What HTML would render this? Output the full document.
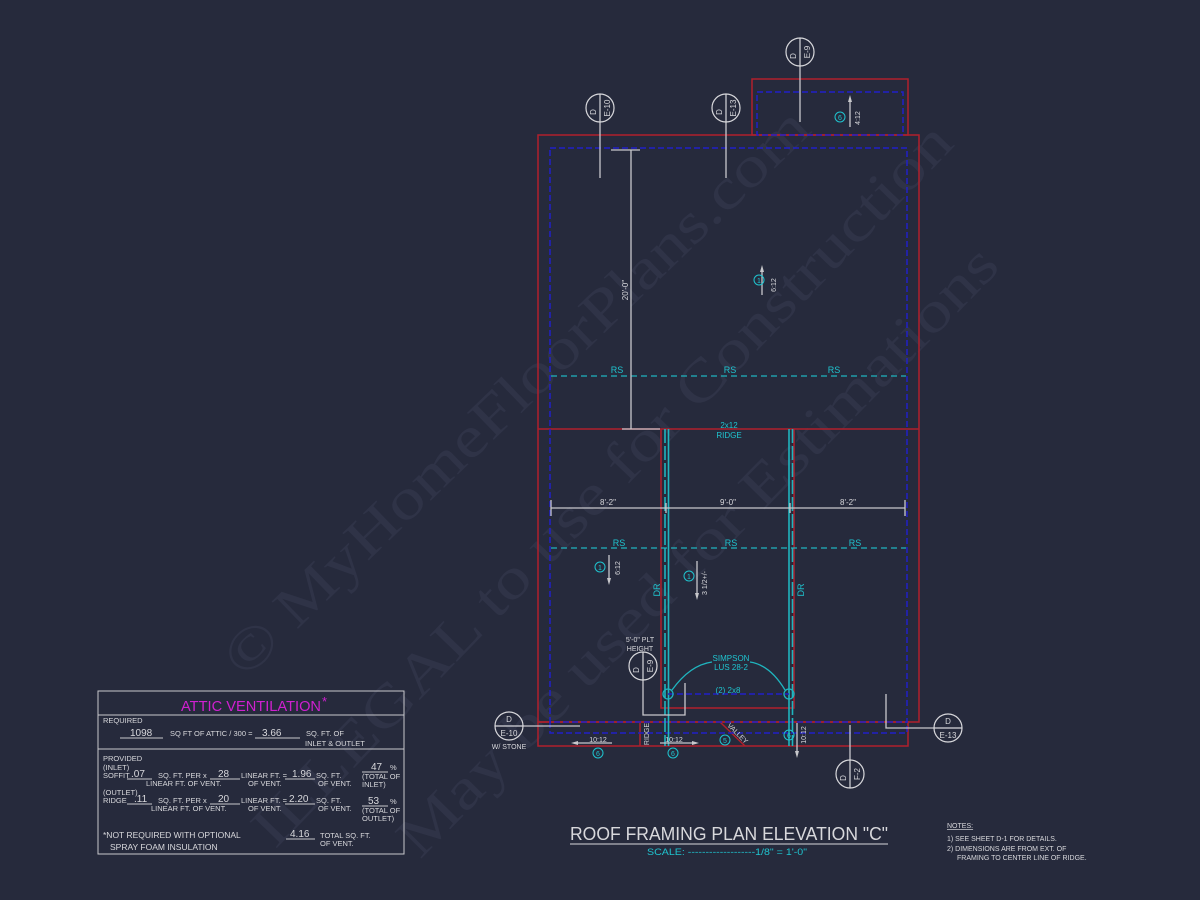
<!DOCTYPE html>
<html><head><meta charset="utf-8"><style>
html,body{margin:0;padding:0;background:#262a3c;}
svg{display:block}
text{font-family:"Liberation Sans",sans-serif;}
text.wm{font-family:"Liberation Serif",serif;}
</style></head><body>
<svg width="1200" height="900" viewBox="0 0 1200 900" xmlns="http://www.w3.org/2000/svg">
<rect width="1200" height="900" fill="#262a3c"/>
<g fill="#2f3347" font-size="58">
<text class="wm" style="font-family:'Liberation Serif',serif" transform="translate(245,680) rotate(-44)" textLength="790" lengthAdjust="spacingAndGlyphs">© MyHomeFloorPlans.com</text>
<text class="wm" style="font-family:'Liberation Serif',serif" transform="translate(275,850) rotate(-46)" textLength="980" lengthAdjust="spacingAndGlyphs">ILLEGAL to use for Construction</text>
<text class="wm" style="font-family:'Liberation Serif',serif" transform="translate(420,860) rotate(-45.5)" textLength="830" lengthAdjust="spacingAndGlyphs">May be used for Estimations</text>
</g>
<g fill="none" stroke="#b0202c" stroke-width="1.5">
<rect x="538" y="135" width="381" height="587"/>
<rect x="752" y="79" width="156" height="56"/>
<rect x="538" y="722" width="370" height="24"/>
<line x1="538" y1="429" x2="919" y2="429"/>
<polyline points="661,429 661,708 794,708 794,429"/>
<line x1="720" y1="722" x2="745" y2="746"/>
<line x1="640" y1="722" x2="640" y2="746"/>
</g>
<g fill="none" stroke="#2020c8" stroke-width="1.5" stroke-dasharray="6,3">
<rect x="550" y="148" width="357" height="574"/>
<rect x="757" y="92" width="146" height="43"/>
<polyline points="550,722 550,733 907,733 907,722"/>
</g>
<g stroke="#1fb5bf" stroke-width="1.3" stroke-dasharray="6,4">
<line x1="551" y1="376" x2="906" y2="376"/>
<line x1="551" y1="548" x2="906" y2="548"/>
</g>
<g stroke="#1fb5bf" stroke-width="1.6">
<line x1="665" y1="429" x2="665" y2="746" stroke-dasharray="14,3"/>
<line x1="668.5" y1="429" x2="668.5" y2="746"/>
<line x1="789" y1="429" x2="789" y2="746"/>
<line x1="792.5" y1="429" x2="792.5" y2="746" stroke-dasharray="14,3"/>
</g>
<line x1="668" y1="694" x2="789" y2="694" stroke="#2020c8" stroke-width="1.5" stroke-dasharray="6,3"/>
<g fill="none" stroke="#1fb5bf" stroke-width="1.3">
<circle cx="668" cy="694" r="5"/><circle cx="789" cy="694" r="5"/>
<path d="M672,690 Q690,665 712,662"/><path d="M785,690 Q770,665 750,662"/>
</g>
<g stroke="#c8c8cc" stroke-width="1.3" fill="none">
<line x1="631" y1="150" x2="631" y2="429"/>
<line x1="611" y1="150" x2="640" y2="150"/>
<line x1="622" y1="429" x2="660" y2="429"/>
<line x1="551" y1="508" x2="905" y2="508"/>
<line x1="551" y1="500" x2="551" y2="516"/><line x1="905" y1="500" x2="905" y2="516"/>
<line x1="666" y1="503" x2="666" y2="513"/><line x1="790" y1="503" x2="790" y2="513"/>
<line x1="762" y1="270" x2="762" y2="295"/><line x1="850" y1="100" x2="850" y2="127"/>
<line x1="609" y1="555" x2="609" y2="580"/><line x1="697" y1="561" x2="697" y2="595"/>
<line x1="797" y1="723" x2="797" y2="753"/>
<line x1="578" y1="743" x2="612" y2="743"/><line x1="660" y1="743" x2="692" y2="743"/>
<line x1="600" y1="122" x2="600" y2="178"/><line x1="726" y1="122" x2="726" y2="178"/>
<line x1="800" y1="66" x2="800" y2="122"/>
<polyline points="643,680 643,715 685,715 685,683"/>
<line x1="523" y1="726" x2="580" y2="726"/>
<polyline points="886,694 886,728 934,728"/>
<line x1="850" y1="725" x2="850" y2="760"/>
</g>
<g fill="#c8c8cc">
<polygon points="760,272 764,272 762,265"/><polygon points="848,102 852,102 850,95"/>
<polygon points="607,578 611,578 609,585"/><polygon points="695,593 699,593 697,600"/>
<polygon points="795,751 799,751 797,758"/>
<polygon points="578,741 578,745 571,743"/><polygon points="692,741 692,745 699,743"/>
</g>
<g fill="none" stroke="#d8d8dc" stroke-width="1.2">
<circle cx="600" cy="108" r="14"/><line x1="600" y1="94" x2="600" y2="122"/>
<circle cx="726" cy="108" r="14"/><line x1="726" y1="94" x2="726" y2="122"/>
<circle cx="800" cy="52" r="14"/><line x1="800" y1="38" x2="800" y2="66"/>
<circle cx="643" cy="666" r="14"/><line x1="643" y1="652" x2="643" y2="680"/>
<circle cx="509" cy="726" r="14"/><line x1="495" y1="726" x2="523" y2="726"/>
<circle cx="948" cy="728" r="14"/><line x1="934" y1="728" x2="962" y2="728"/>
<circle cx="850" cy="774" r="14"/><line x1="850" y1="760" x2="850" y2="788"/>
</g>
<g fill="#d8d8dc" font-size="8">
<text transform="translate(596,112) rotate(-90)" text-anchor="middle">D</text>
<text transform="translate(610,108) rotate(-90)" text-anchor="middle">E-10</text>
<text transform="translate(722,112) rotate(-90)" text-anchor="middle">D</text>
<text transform="translate(736,108) rotate(-90)" text-anchor="middle">E-13</text>
<text transform="translate(796,56) rotate(-90)" text-anchor="middle">D</text>
<text transform="translate(810,52) rotate(-90)" text-anchor="middle">E-9</text>
<text transform="translate(639,670) rotate(-90)" text-anchor="middle">D</text>
<text transform="translate(653,666) rotate(-90)" text-anchor="middle">E-9</text>
<text transform="translate(846,778) rotate(-90)" text-anchor="middle">D</text>
<text transform="translate(860,774) rotate(-90)" text-anchor="middle">F-2</text>
<text x="509" y="722" text-anchor="middle">D</text><text x="509" y="736" text-anchor="middle">E-10</text>
<text x="948" y="724" text-anchor="middle">D</text><text x="948" y="738" text-anchor="middle">E-13</text>
<text x="509" y="749" text-anchor="middle" font-size="7">W/ STONE</text>
<text x="608" y="505" text-anchor="middle">8'-2"</text>
<text x="728" y="505" text-anchor="middle">9'-0"</text>
<text x="848" y="505" text-anchor="middle">8'-2"</text>
<text transform="translate(628,290) rotate(-90)" text-anchor="middle">20'-0"</text>
<text x="640" y="642" text-anchor="middle" font-size="7">5'-0" PLT</text>
<text x="640" y="651" text-anchor="middle" font-size="7">HEIGHT</text>
<text transform="translate(776,285) rotate(-90)" text-anchor="middle" font-size="7">6:12</text>
<text transform="translate(860,118) rotate(-90)" text-anchor="middle" font-size="7">4:12</text>
<text transform="translate(620,568) rotate(-90)" text-anchor="middle" font-size="7">6:12</text>
<text transform="translate(707,583) rotate(-90)" text-anchor="middle" font-size="7">3 1/2+/-</text>
<text transform="translate(806,735) rotate(-90)" text-anchor="middle" font-size="7">10:12</text>
<text x="598" y="742" text-anchor="middle" font-size="7">10:12</text>
<text x="674" y="742" text-anchor="middle" font-size="7">10:12</text>
<text transform="translate(649,734) rotate(-90)" text-anchor="middle" font-size="7">RIDGE</text>
<text transform="translate(736,735) rotate(45)" text-anchor="middle" font-size="7">VALLEY</text>
</g>
<g fill="#1fc4cf" font-size="9" text-anchor="middle">
<text x="617" y="373">RS</text><text x="730" y="373">RS</text><text x="834" y="373">RS</text>
<text x="619" y="546">RS</text><text x="731" y="546">RS</text><text x="855" y="546">RS</text>
<text x="729" y="428" font-size="8">2x12</text><text x="729" y="438" font-size="8">RIDGE</text>
<text x="731" y="661" font-size="8">SIMPSON</text><text x="731" y="670" font-size="8">LUS 28-2</text>
<text x="728" y="693" font-size="8">(2) 2x8</text>
<text transform="translate(660,590) rotate(-90)">DR</text>
<text transform="translate(804,590) rotate(-90)">DR</text>
<text x="727" y="855" font-size="9" textLength="160" lengthAdjust="spacingAndGlyphs">SCALE: -------------------1/8" = 1'-0"</text>
</g>
<g fill="none" stroke="#1fc4cf" stroke-width="1">
<circle cx="759" cy="280" r="5"/><circle cx="840" cy="117" r="5"/>
<circle cx="600" cy="567" r="5"/><circle cx="689" cy="576" r="5"/>
<circle cx="725" cy="740" r="5"/><circle cx="789" cy="735" r="5"/>
<circle cx="598" cy="753" r="5"/><circle cx="673" cy="753" r="5"/>
</g>
<g fill="#1fc4cf" font-size="7" text-anchor="middle">
<text x="759" y="283">1</text><text x="840" y="120">6</text><text x="600" y="570">1</text><text x="689" y="579">1</text>
<text x="725" y="743">5</text><text x="789" y="738">6</text><text x="598" y="756">6</text><text x="673" y="756">6</text>
</g>
<text x="570" y="840" fill="#d8d8dc" font-size="18" textLength="318" lengthAdjust="spacingAndGlyphs">ROOF FRAMING PLAN ELEVATION "C"</text>
<line x1="570" y1="844" x2="888" y2="844" stroke="#d8d8dc" stroke-width="1"/>
<g fill="#d8d8dc" font-size="7">
<text x="947" y="828" text-decoration="underline">NOTES:</text>
<text x="947" y="841">1)  SEE SHEET D-1 FOR DETAILS.</text>
<text x="947" y="851">2)  DIMENSIONS ARE FROM EXT. OF</text>
<text x="957" y="860">FRAMING TO CENTER LINE OF RIDGE.</text>
</g>
<g fill="none" stroke="#c8c8cc" stroke-width="1">
<rect x="98" y="691" width="306" height="163"/>
<line x1="98" y1="715" x2="404" y2="715"/>
<line x1="98" y1="749" x2="404" y2="749"/>
</g>
<text x="181" y="711" fill="#d020d0" font-size="15" textLength="140" lengthAdjust="spacingAndGlyphs">ATTIC VENTILATION</text>
<text x="322" y="706" fill="#d020d0" font-size="13">*</text>
<g fill="#d8d8dc" font-size="7.5">
<text x="103" y="723">REQUIRED</text>
<text x="130" y="736" font-size="10">1098</text><line x1="120" y1="738" x2="163" y2="738" stroke="#c8c8cc"/>
<text x="170" y="736">SQ FT OF ATTIC / 300 =</text>
<text x="262" y="736" font-size="10">3.66</text><line x1="255" y1="738" x2="300" y2="738" stroke="#c8c8cc"/>
<text x="306" y="736">SQ. FT. OF</text>
<text x="305" y="746">INLET &amp; OUTLET</text>
<text x="103" y="761">PROVIDED</text>
<text x="103" y="770">(INLET)</text>
<text x="103" y="778">SOFFIT</text>
<text x="131" y="777" font-size="10">.07</text><line x1="127" y1="779" x2="152" y2="779" stroke="#c8c8cc"/>
<text x="158" y="778">SQ. FT. PER x</text>
<text x="218" y="777" font-size="10">28</text><line x1="210" y1="779" x2="240" y2="779" stroke="#c8c8cc"/>
<text x="241" y="778">LINEAR FT. =</text>
<text x="292" y="777" font-size="10">1.96</text><line x1="285" y1="779" x2="315" y2="779" stroke="#c8c8cc"/>
<text x="316" y="778">SQ. FT.</text>
<text x="146" y="786">LINEAR FT. OF VENT.</text><text x="248" y="786">OF VENT.</text><text x="318" y="786">OF VENT.</text>
<text x="371" y="770" font-size="10">47</text><text x="390" y="770">%</text><line x1="362" y1="772" x2="388" y2="772" stroke="#c8c8cc"/>
<text x="362" y="779">(TOTAL OF</text><text x="362" y="787">INLET)</text>
<text x="103" y="795">(OUTLET)</text>
<text x="103" y="803">RIDGE</text>
<text x="134" y="802" font-size="10">.11</text><line x1="127" y1="804" x2="152" y2="804" stroke="#c8c8cc"/>
<text x="158" y="803">SQ. FT. PER x</text>
<text x="218" y="802" font-size="10">20</text><line x1="210" y1="804" x2="240" y2="804" stroke="#c8c8cc"/>
<text x="241" y="803">LINEAR FT. =</text>
<text x="289" y="802" font-size="10">2.20</text><line x1="285" y1="804" x2="315" y2="804" stroke="#c8c8cc"/>
<text x="316" y="803">SQ. FT.</text>
<text x="151" y="811">LINEAR FT. OF VENT.</text><text x="248" y="811">OF VENT.</text><text x="318" y="811">OF VENT.</text>
<text x="368" y="804" font-size="10">53</text><text x="390" y="804">%</text><line x1="362" y1="806" x2="388" y2="806" stroke="#c8c8cc"/>
<text x="362" y="813">(TOTAL OF</text><text x="362" y="821">OUTLET)</text>
<text x="103" y="838" font-size="8.5">*NOT REQUIRED WITH OPTIONAL</text>
<text x="110" y="850" font-size="8.5">SPRAY FOAM INSULATION</text>
<text x="290" y="837" font-size="10">4.16</text><line x1="286" y1="839" x2="315" y2="839" stroke="#c8c8cc"/>
<text x="320" y="838">TOTAL  SQ. FT.</text>
<text x="320" y="846">OF VENT.</text>
</g>
</svg>
</body></html>
